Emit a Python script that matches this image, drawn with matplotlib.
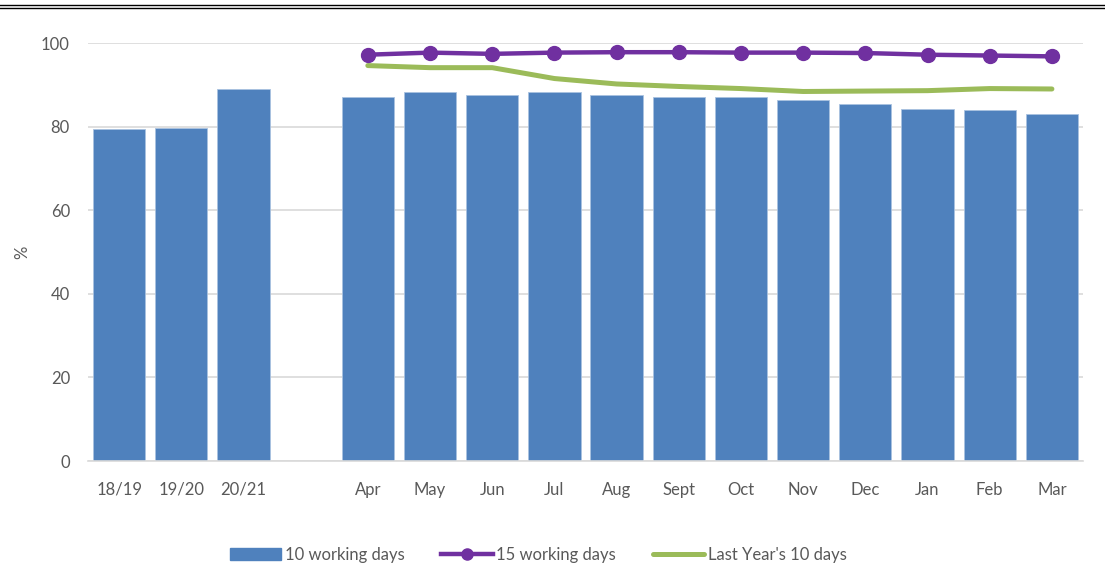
import numpy as np
import matplotlib.pyplot as plt
from matplotlib.lines import Line2D

plt.rcParams['font.family'] = ['Lato', 'DejaVu Sans']

categories = ['18/19', '19/20', '20/21', '', 'Apr', 'May', 'Jun', 'Jul', 'Aug',
              'Sept', 'Oct', 'Nov', 'Dec', 'Jan', 'Feb', 'Mar']
ten_days = [79.4, 79.6, 89.0, np.nan, 87.1, 88.3, 87.6, 88.3, 87.6,
            87.2, 87.1, 86.4, 85.4, 84.2, 83.9, 82.9]
fifteen_days = [np.nan, np.nan, np.nan, np.nan, 97.2, 97.7, 97.4, 97.7, 97.8,
                97.8, 97.7, 97.7, 97.6, 97.2, 97.0, 96.8]
last_year = [np.nan, np.nan, np.nan, np.nan, 94.6, 94.1, 94.1, 91.5, 90.2,
             89.6, 89.1, 88.4, 88.5, 88.6, 89.1, 89.0]

blue = '#4f81bd'
purple = '#7030a0'
green = '#9bbb59'
grey_txt = '#595959'

fig = plt.figure(figsize=(11.05, 5.87), dpi=100)
ax = fig.add_axes([88 / 1105, 1 - 461 / 587, (1083 - 88) / 1105, (461 - 43) / 587])

x = np.arange(len(categories))
ax.bar(x, ten_days, width=0.84, color=blue, edgecolor='#a9c2e0', linewidth=0.6,
       label='10 working days', zorder=2)
ax.plot(x, fifteen_days, color=purple, lw=3.2, marker='o', ms=10,
        label='15 working days', zorder=4)
ax.plot(x, last_year, color=green, lw=3.6, solid_capstyle='round',
        label="Last Year's 10 days", zorder=3)

ax.set_xlim(-0.5, len(categories) - 0.5)
ax.set_ylim(0, 100)
ax.set_yticks([0, 20, 40, 60, 80, 100])
ax.set_xticks(x)
ax.set_xticklabels(categories)
ax.grid(axis='y', color='#d9d9d9', lw=1.2, zorder=0)
for s in ['top', 'right', 'left']:
    ax.spines[s].set_visible(False)
ax.spines['bottom'].set_color('#d9d9d9')
ax.spines['bottom'].set_linewidth(1.2)
ax.tick_params(axis='both', length=0, labelsize=12, labelcolor=grey_txt)
ax.tick_params(axis='x', pad=15)
ax.tick_params(axis='y', pad=13)
ax.set_ylabel('%', fontsize=12, color=grey_txt)
ax.yaxis.set_label_coords(-0.058, 0.5)

handles = [plt.Rectangle((0, 0), 1, 1, color=blue),
           Line2D([], [], color=purple, lw=3.2, marker='o', ms=8),
           Line2D([], [], color=green, lw=3.6, solid_capstyle='round')]
fig.legend(handles, ['10 working days', '15 working days', "Last Year's 10 days"],
           loc='center', bbox_to_anchor=(0.487, 0.055), ncol=3, frameon=False,
           fontsize=12, labelcolor=grey_txt, handlelength=3.1, handletextpad=0.2,
           columnspacing=2.2)

# double rule at the top edge
fig.add_artist(Line2D([0, 1], [1 - 5 / 587, 1 - 5 / 587], color='black', lw=1.0))
fig.add_artist(Line2D([0, 1], [1 - 8 / 587, 1 - 8 / 587], color='black', lw=1.0))

fig.savefig('out.png', dpi=100)
